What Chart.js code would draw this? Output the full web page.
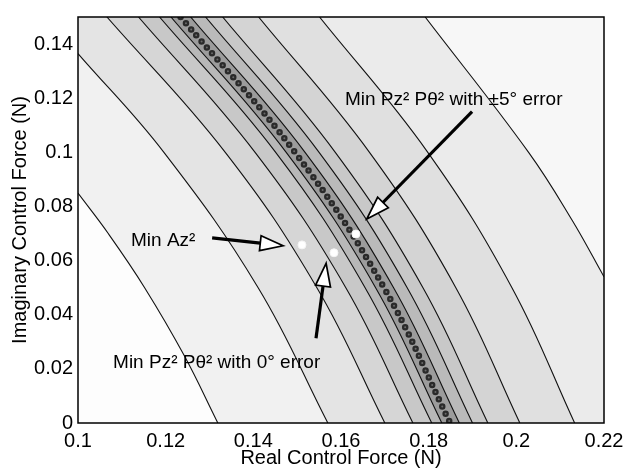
<!DOCTYPE html>
<html>
<head>
<meta charset="utf-8">
<title>Control force contours</title>
<script src="https://cdn.jsdelivr.net/npm/chart.js@4.4.1/dist/chart.umd.min.js"></script>
<style>
	html, body { margin: 0; padding: 0; background: #fff; }
</style>
</head>
<body>
<canvas id="contours" width="638" height="470"></canvas>
<script>
'use strict';

// Contour arcs as [real, imaginary] pairs,
// from where each arc enters (left or top edge) down to where it leaves.
const arcA = [ [ 0.1, 0.0849 ], [ 0.1069, 0.07 ], [ 0.1152, 0.05 ], [ 0.1242, 0.025 ], [ 0.1319, 0 ] ];
const arcB = [ [ 0.1, 0.1365 ], [ 0.1196, 0.1 ], [ 0.1411, 0.05 ], [ 0.157, 0 ] ];
const arcC = [ [ 0.1066, 0.15 ], [ 0.1336, 0.1 ], [ 0.1545, 0.05 ], [ 0.17, 0 ] ];
const arcD = [ [ 0.1138, 0.15 ], [ 0.1404, 0.1 ], [ 0.1611, 0.05 ], [ 0.1764, 0 ] ];
const arcE = [ [ 0.1186, 0.15 ], [ 0.1451, 0.1 ], [ 0.1655, 0.05 ], [ 0.1807, 0 ] ];
const arcF = [ [ 0.1212, 0.15 ], [ 0.1475, 0.1 ], [ 0.1679, 0.05 ], [ 0.183, 0 ] ];
const arcH = [ [ 0.1257, 0.15 ], [ 0.1518, 0.1 ], [ 0.172, 0.05 ], [ 0.187, 0 ] ];
const arcI = [ [ 0.1291, 0.15 ], [ 0.155, 0.1 ], [ 0.1751, 0.05 ], [ 0.19, 0 ] ];
const arcJ = [ [ 0.133, 0.15 ], [ 0.1587, 0.1 ], [ 0.1787, 0.05 ], [ 0.1935, 0 ] ];
const arcK = [ [ 0.1412, 0.15 ], [ 0.1665, 0.1 ], [ 0.1862, 0.05 ], [ 0.2008, 0 ] ];
const arcL = [ [ 0.1551, 0.15 ], [ 0.1798, 0.1 ], [ 0.199, 0.05 ], [ 0.2133, 0 ] ];
const arcM = [ [ 0.1792, 0.15 ], [ 0.2028, 0.1 ], [ 0.2127, 0.075 ], [ 0.22, 0.054 ] ];

// the trough of the +/-5 deg cost, drawn as a chain of dark circles
const troughLine = [ [ 0.1234, 0.15 ], [ 0.1495, 0.1 ], [ 0.1698, 0.05 ], [ 0.1849, 0 ] ];

// the three minima
const minAz   = [ 0.1511, 0.0658 ];
const minZero = [ 0.1584, 0.0629 ];
const minFive = [ 0.1634, 0.0698 ];

const xTicks      = [ 0.1, 0.12, 0.14, 0.16, 0.18, 0.2, 0.22 ];
const xTickLabels = [ '0.1', '0.12', '0.14', '0.16', '0.18', '0.2', '0.22' ];
const yTicks      = [ 0, 0.02, 0.04, 0.06, 0.08, 0.1, 0.12, 0.14 ];
const yTickLabels = [ '0', '0.02', '0.04', '0.06', '0.08', '0.1', '0.12', '0.14' ];

const FONT = '"Liberation Sans", Arial, Helvetica, sans-serif';
const innerShade = '#fdfdfd';

// text and arrows: [x, y] in data units
const notes = [
	{ text: 'Min Az\u00b2', at: [ 0.1121, 0.0655 ], tail: [ 0.1306, 0.0684 ], tip: [ 0.1468, 0.0655 ] },
	{ text: 'Min Pz\u00b2 P\u03b8\u00b2 with \u00b15\u00b0 error', at: [ 0.1609, 0.1176 ], tail: [ 0.1899, 0.115 ], tip: [ 0.1659, 0.0754 ] },
	{ text: 'Min Pz\u00b2 P\u03b8\u00b2 with 0\u00b0 error', at: [ 0.108, 0.0204 ], tail: [ 0.1543, 0.0313 ], tip: [ 0.1566, 0.059 ] },
];

function toXY( pts ) {
	return pts.map( function ( p ) { return { x: p[0], y: p[1] }; } );
}

function arcSet( pts, band ) {
	return {
		data:        toXY( pts ),
		borderColor: '#111',
		borderWidth: 1.1,
		pointRadius: 0,
		tension:     0.4,
		fill:        false,
		band:        band,
	};
}

function dotSet( width, color ) {
	return {
		data:           toXY( troughLine ),
		borderColor:    color,
		borderWidth:    width,
		borderDash:     [ 0, 8 ],
		borderCapStyle: 'round',
		pointRadius:    0,
		tension:        0.4,
		fill:           false,
	};
}

// grey bands: every arc paints the region outside itself, inner arcs first
const bandFill = {
	id: 'bandFill',
	beforeDatasetsDraw( chart ) {
		const ctx = chart.ctx;
		const a   = chart.chartArea;
		ctx.save();
		ctx.beginPath();
		ctx.rect( a.left, a.top, a.right - a.left, a.bottom - a.top );
		ctx.clip();
		ctx.fillStyle = innerShade;
		ctx.fillRect( a.left, a.top, a.right - a.left, a.bottom - a.top );
		chart.data.datasets.forEach( function ( ds, i ) {
			if ( ! ds.band ) return;
			const meta = chart.getDatasetMeta( i );
			const line = meta.dataset;
			const pts  = meta.data;
			line.updateControlPoints( a, 'x' );
			ctx.beginPath();
			line.path( ctx );
			ctx.lineTo( a.right, pts[ pts.length - 1 ].y );
			ctx.lineTo( a.right, a.top );
			ctx.lineTo( a.left, a.top );
			ctx.closePath();
			ctx.fillStyle = ds.band;
			ctx.fill();
		} );
		ctx.restore();
	},
};

function drawArrow( ctx, x0, y0, x1, y1 ) {
	const ang  = Math.atan2( y1 - y0, x1 - x0 );
	const len  = 23;
	const half = 7.5;
	const bx   = x1 - len * Math.cos( ang );
	const by   = y1 - len * Math.sin( ang );
	ctx.strokeStyle = '#000';
	ctx.lineWidth   = 3.2;
	ctx.beginPath();
	ctx.moveTo( x0, y0 );
	ctx.lineTo( bx, by );
	ctx.stroke();
	ctx.beginPath();
	ctx.moveTo( x1, y1 );
	ctx.lineTo( bx + half * Math.sin( ang ), by - half * Math.cos( ang ) );
	ctx.lineTo( bx - half * Math.sin( ang ), by + half * Math.cos( ang ) );
	ctx.closePath();
	ctx.fillStyle = '#fff';
	ctx.fill();
	ctx.lineWidth = 1.7;
	ctx.stroke();
}

const framePlugin = {
	id: 'frameNotes',
	afterDatasetsDraw( chart ) {
		const ctx = chart.ctx;
		const a   = chart.chartArea;
		const xs  = chart.scales.x;
		const ys  = chart.scales.y;
		ctx.save();
		ctx.strokeStyle = '#000';
		ctx.lineWidth   = 1.5;
		ctx.strokeRect( a.left, a.top, a.right - a.left, a.bottom - a.top );

		ctx.font         = '19px ' + FONT;
		ctx.textBaseline = 'alphabetic';
		ctx.textAlign    = 'left';
		notes.forEach( function ( n ) {
			ctx.fillStyle = '#000';
			ctx.fillText( n.text, xs.getPixelForValue( n.at[0] ), ys.getPixelForValue( n.at[1] ) );
			drawArrow( ctx,
				xs.getPixelForValue( n.tail[0] ), ys.getPixelForValue( n.tail[1] ),
				xs.getPixelForValue( n.tip[0] ), ys.getPixelForValue( n.tip[1] ) );
		} );
		ctx.restore();
	},
};

const datasets = [
	{
		data:                 toXY( [ minAz, minZero, minFive ] ),
		showLine:             false,
		pointRadius:          4,
		pointBackgroundColor: '#fff',
		pointBorderColor:     '#f4f4f4',
		pointBorderWidth:     1,
	},
	dotSet( 2, '#6a6a6a' ),
	dotSet( 6.5, '#2a2a2a' ),
	arcSet( arcA, '#f1f1f1' ),
	arcSet( arcB, '#e4e4e4' ),
	arcSet( arcC, '#d6d6d6' ),
	arcSet( arcD, '#c8c8c8' ),
	arcSet( arcE, '#b8b8b8' ),
	arcSet( arcF, '#9c9c9c' ),
	arcSet( arcH, '#bababa' ),
	arcSet( arcI, '#c8c8c8' ),
	arcSet( arcJ, '#d4d4d4' ),
	arcSet( arcK, '#e0e0e0' ),
	arcSet( arcL, '#ebebeb' ),
	arcSet( arcM, '#f7f7f7' ),
];

const tickFont  = { family: FONT, size: 20 };
const titleFont = { family: FONT, size: 20 };

new Chart( document.getElementById( 'contours' ), {
	type: 'line',
	data: { datasets: datasets },
	options: {
		responsive: false,
		animation:  false,
		layout:     { padding: { left: 0, right: 34, top: 11, bottom: 0 } },
		plugins: {
			legend:  { display: false },
			tooltip: { enabled: false },
		},
		scales: {
			x: {
				type:   'linear',
				min:    0.1,
				max:    0.22,
				grid:   { display: false, drawTicks: false },
				border: { display: false },
				afterBuildTicks: function ( s ) { s.ticks = xTicks.map( function ( v ) { return { value: v }; } ); },
				afterFit:        function ( s ) { s.height = 47; },
				ticks: {
					padding:     6,
					color:       '#000',
					font:        tickFont,
					maxRotation: 0,
					autoSkip:    false,
					callback:    function ( v, i ) { return xTickLabels[ i ]; },
				},
				title: {
					display: true,
					text:    'Real Control Force (N)',
					color:   '#000',
					font:    titleFont,
					padding: { top: 0, bottom: 0 },
				},
			},
			y: {
				type:   'linear',
				min:    0,
				max:    0.15,
				grid:   { display: false, drawTicks: false },
				border: { display: false },
				afterBuildTicks: function ( s ) { s.ticks = yTicks.map( function ( v ) { return { value: v }; } ); },
				afterFit:        function ( s ) { s.width = 78; },
				ticks: {
					padding:  5,
					color:    '#000',
					font:     tickFont,
					autoSkip: false,
					callback: function ( v, i ) { return yTickLabels[ i ]; },
				},
				title: {
					display: true,
					text:    'Imaginary Control Force (N)',
					color:   '#000',
					font:    titleFont,
					padding: { top: 8, bottom: 0 },
				},
			},
		},
	},
	plugins: [ bandFill, framePlugin ],
} );
</script>
</body>
</html>
